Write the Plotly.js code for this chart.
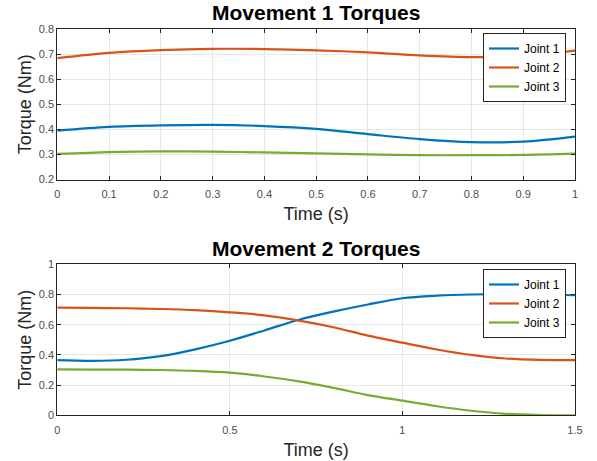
<!DOCTYPE html>
<html>
<head>
<meta charset="utf-8">
<script src="https://cdn.plot.ly/plotly-3.0.1.min.js"></script>
<style>html,body{margin:0;padding:0;background:#fff;}#chart{width:597px;height:461px;}</style>
</head>
<body>
<div id="chart"></div>
<script>
// Movement 1 data
const time1 = [0, 0.1, 0.2, 0.3, 0.4, 0.5, 0.6, 0.7, 0.8, 0.9, 1.0];
const m1Joint1 = [0.395, 0.410, 0.416, 0.418, 0.413, 0.402, 0.381, 0.361, 0.349, 0.351, 0.371];
const m1Joint2 = [0.684, 0.705, 0.716, 0.721, 0.720, 0.715, 0.707, 0.695, 0.688, 0.692, 0.714];
const m1Joint3 = [0.302, 0.309, 0.312, 0.311, 0.308, 0.304, 0.300, 0.297, 0.297, 0.298, 0.303];

// Movement 2 data
const time2 = [0, 0.1, 0.2, 0.3, 0.4, 0.5, 0.6, 0.7, 0.8, 0.9, 1.0, 1.1, 1.2, 1.3, 1.4, 1.5];
const m2Joint1 = [0.366, 0.361, 0.368, 0.392, 0.437, 0.494, 0.562, 0.633, 0.687, 0.734, 0.775, 0.792, 0.800, 0.802, 0.799, 0.795];
const m2Joint2 = [0.713, 0.711, 0.709, 0.704, 0.696, 0.682, 0.662, 0.627, 0.583, 0.528, 0.481, 0.436, 0.400, 0.376, 0.367, 0.365];
const m2Joint3 = [0.304, 0.303, 0.302, 0.300, 0.294, 0.282, 0.257, 0.225, 0.182, 0.134, 0.097, 0.060, 0.030, 0.010, 0.002, 0.000];

const seriesNames = ["Joint 1", "Joint 2", "Joint 3"];
const colors = ["#0072BD", "#D95319", "#77AC30"];

const font = "Liberation Sans, Arial, Helvetica, sans-serif";
const W = 597, H = 461;
function px(x){return x / W;}
function py(y){return 1 - y / H;}

const traces = [];
[m1Joint1, m1Joint2, m1Joint3].forEach((ys, i) => {
  traces.push({x: time1, y: ys, name: seriesNames[i], type: "scatter", mode: "lines",
    line: {color: colors[i], width: 2.2, shape: "spline", smoothing: 0.9},
    xaxis: "x", yaxis: "y", legend: "legend"});
});
[m2Joint1, m2Joint2, m2Joint3].forEach((ys, i) => {
  traces.push({x: time2, y: ys, name: seriesNames[i], type: "scatter", mode: "lines",
    line: {color: colors[i], width: 2.2, shape: "spline", smoothing: 0.9},
    xaxis: "x2", yaxis: "y2", legend: "legend2"});
});

const axisCommon = {
  showline: true, mirror: "allticks", linecolor: "#262626", linewidth: 1,
  ticks: "inside", ticklen: 4, tickcolor: "#262626",
  showgrid: true, gridcolor: "#e6e6e6", gridwidth: 1, zeroline: false,
  tickfont: {family: font, size: 11, color: "#4d4d4d"}
};
const axTitleFont = {family: font, size: 18, color: "#262626"};

const legendCommon = {
  bgcolor: "#ffffff", bordercolor: "#262626", borderwidth: 1,
  font: {family: font, size: 12, color: "#000"},
  xanchor: "right", yanchor: "top", tracegroupgap: 0, itemwidth: 30
};

const layout = {
  width: W, height: H,
  margin: {l: 0, r: 0, t: 0, b: 0},
  paper_bgcolor: "#ffffff", plot_bgcolor: "#ffffff",
  showlegend: true,
  xaxis: Object.assign({}, axisCommon, {domain: [px(57.3), px(575)], range: [0, 1], dtick: 0.1, tick0: 0,
    ticklabelstandoff: 4, anchor: "y", title: {text: "Time (s)", font: axTitleFont, standoff: 8}}),
  yaxis: Object.assign({}, axisCommon, {domain: [py(179.5), py(29)], range: [0.2, 0.8], dtick: 0.1, tick0: 0.2,
    anchor: "x", title: {text: "Torque (Nm)", font: axTitleFont, standoff: 2}}),
  xaxis2: Object.assign({}, axisCommon, {domain: [px(57.3), px(575)], range: [0, 1.5], dtick: 0.5, tick0: 0,
    ticklabelstandoff: 4, anchor: "y2", title: {text: "Time (s)", font: axTitleFont, standoff: 8}}),
  yaxis2: Object.assign({}, axisCommon, {domain: [py(415.3), py(264.3)], range: [0, 1], dtick: 0.2, tick0: 0,
    anchor: "x2", title: {text: "Torque (Nm)", font: axTitleFont, standoff: 2}}),
  legend: Object.assign({}, legendCommon, {x: px(566), y: py(33)}),
  legend2: Object.assign({}, legendCommon, {x: px(566), y: py(269)}),
  annotations: [
    {text: "<b>Movement 1 Torques</b>", x: px(316), y: py(13), xref: "paper", yref: "paper",
      xanchor: "center", yanchor: "middle", showarrow: false, font: {family: font, size: 21, color: "#000"}},
    {text: "<b>Movement 2 Torques</b>", x: px(316), y: py(248), xref: "paper", yref: "paper",
      xanchor: "center", yanchor: "middle", showarrow: false, font: {family: font, size: 21, color: "#000"}}
  ]
};

Plotly.newPlot("chart", traces, layout, {displayModeBar: false, staticPlot: true});
</script>
</body>
</html>
